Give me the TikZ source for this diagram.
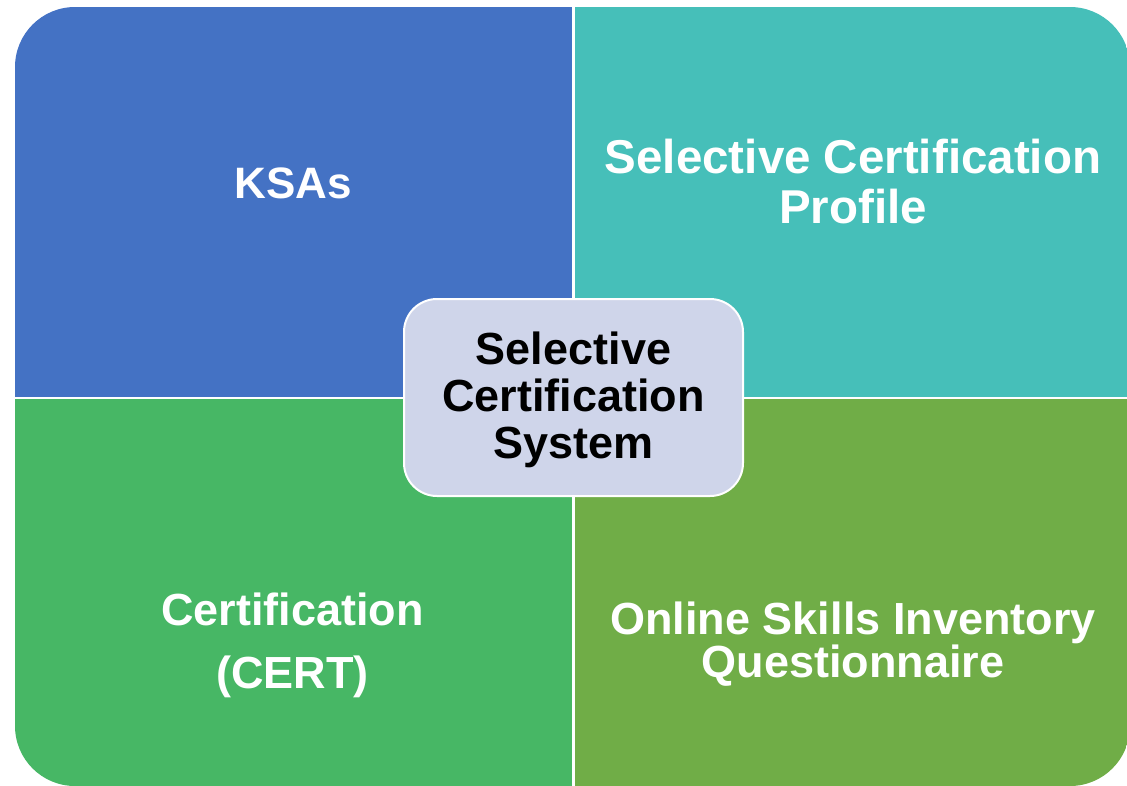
\documentclass[tikz,border=0pt]{standalone}
\usepackage{fontspec}
\setmainfont{Liberation Sans}
\definecolor{qblue}{HTML}{4472C4}
\definecolor{qteal}{HTML}{46BFB9}
\definecolor{qgreen}{HTML}{47B765}
\definecolor{qolive}{HTML}{70AD47}
\definecolor{hubfill}{HTML}{CFD5EA}
\tikzset{
  quadlabel/.style={text=white, font=\bfseries, align=center, anchor=base, inner sep=0pt},
  hubbox/.style={draw=white, line width=2pt, fill=hubfill, rounded corners=33pt},
  hublabel/.style={text=black, font=\bfseries\fontsize{45}{47}\selectfont, align=center, anchor=base, inner sep=0pt}
}
\begin{document}
\begin{tikzpicture}[x=1pt,y=-1pt]
\useasboundingbox (0,0) rectangle (1127,785);
\begin{scope}
  \clip (0,0) rectangle (1127,785);
  \clip[rounded corners=60pt] (15,7) rectangle (1130,786);
  \fill[qblue]  (0,0) rectangle (573.5,398);
  \fill[qteal]  (573.5,0) rectangle (1140,398);
  \fill[qgreen] (0,398) rectangle (573.5,800);
  \fill[qolive] (573.5,398) rectangle (1140,800);
  \draw[white, line width=2.5pt] (573.5,0) -- (573.5,800);
  \draw[white, line width=2.5pt] (0,398) -- (1140,398);
\end{scope}
\node[quadlabel, font=\bfseries\fontsize{44}{47}\selectfont] (ksa) at (293.5,198) {KSAs};
\node[quadlabel, font=\bfseries\fontsize{47.5}{50}\selectfont] (prof) at (853,223) {Selective Certification\\Profile};
\node[quadlabel, font=\bfseries\fontsize{45}{63}\selectfont] (cert) at (292.5,688) {Certification\\(CERT)};
\node[quadlabel, font=\bfseries\fontsize{45}{43}\selectfont] (osiq) at (853,677) {Online Skills Inventory\\Questionnaire};
\node[hubbox, minimum width=339pt, minimum height=197pt, inner sep=0pt] (hub) at (573.5,397.5) {};
\node[hublabel] (hubtext) at (573.5,458) {Selective\\Certification\\System};
\end{tikzpicture}
\end{document}
